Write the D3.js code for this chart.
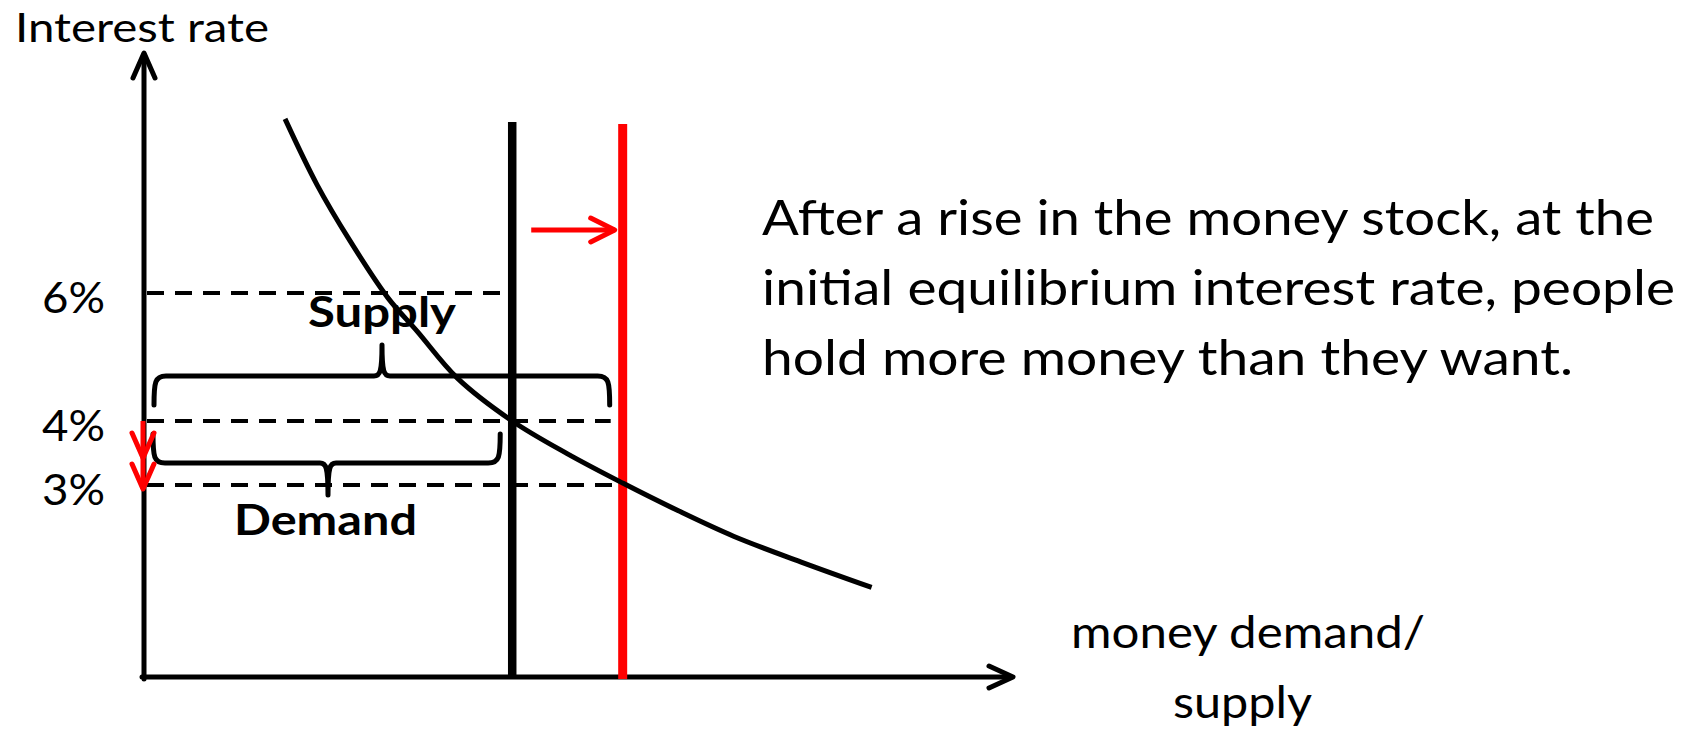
<!DOCTYPE html>
<html>
<head>
<meta charset="utf-8">
<script src="https://cdn.jsdelivr.net/npm/d3@7"></script>
<style>
  html, body { margin: 0; padding: 0; background: #fff; }
  svg { display: block; }
  text { font-family: Lato, "Open Sans", sans-serif; fill: #000; }
</style>
</head>
<body>
<svg id="chart" width="1695" height="732"></svg>
<script>
// ---- data ----
const rateLevels = [6, 4, 3];
const rateLabels = ["6%", "4%", "3%"];
const supplyOld = 100;   // initial money stock
const supplyNew = 130;   // money stock after the rise
const demandQ    = [38.3, 47.0, 56.0, 66.3, 74.2, 85.1, 100, 114.9, 130, 145, 160.1, 178.3, 197.6];
const demandRate = [8.72, 7.69, 6.81, 5.92, 5.40, 4.67, 4.00, 3.49, 3.03, 2.60, 2.20, 1.80, 1.40];
const yAxisTitle = "Interest rate";
const xAxisTitle = ["money demand/", "supply"];
const note = ["After a rise in the money stock, at the",
              "initial equilibrium interest rate, people",
              "hold more money than they want."];
const braceLabels = ["Supply", "Demand"];

// ---- scales ----
const svg = d3.select("#chart");
const x = d3.scaleLinear().domain([0, 236]).range([144, 1013]);
const y = d3.scaleLinear().domain([0, 10]).range([677, 37]);
const x0 = x(0), y0 = y(0);
const yTip = 53, xTip = x(236);
const lineTop = 122;

// ---- axes (arrows) ----
const ax = svg.append("g").attr("stroke", "#000").attr("stroke-width", 5)
  .attr("fill", "none").attr("stroke-linecap", "round").attr("stroke-linejoin", "round");
ax.append("line").attr("x1", x0).attr("y1", y0 + 2).attr("x2", x0).attr("y2", yTip + 2);
ax.append("path").attr("d", `M${x0 - 11},${yTip + 25} L${x0},${yTip} L${x0 + 11},${yTip + 25}`);
ax.append("line").attr("x1", x0 - 2).attr("y1", y0).attr("x2", xTip - 2).attr("y2", y0);
ax.append("path").attr("d", `M${xTip - 24},${y0 - 11} L${xTip},${y0} L${xTip - 24},${y0 + 11}`);

// ---- dashed rate lines ----
const dashEnds = [x(supplyOld) - 8, x(supplyNew) - 12, x(supplyNew) - 4];
svg.append("g").selectAll("line").data(rateLevels).join("line")
  .attr("x1", x0 + 3).attr("x2", (d, i) => dashEnds[i])
  .attr("y1", d => y(d)).attr("y2", d => y(d))
  .attr("stroke", "#000").attr("stroke-width", 4).attr("stroke-dasharray", "17,11");

svg.append("g").selectAll("text").data(rateLevels).join("text")
  .attr("x", 42).attr("y", d => y(d) + 20)
  .attr("font-size", 42)
  .attr("textLength", 63).attr("lengthAdjust", "spacingAndGlyphs")
  .text((d, i) => rateLabels[i]);

// ---- supply lines ----
svg.append("line").attr("x1", x(supplyOld)).attr("x2", x(supplyOld))
  .attr("y1", lineTop).attr("y2", y0 - 2)
  .attr("stroke", "#000").attr("stroke-width", 8.5);
svg.append("line").attr("x1", x(supplyNew)).attr("x2", x(supplyNew))
  .attr("y1", lineTop + 2).attr("y2", y0 + 2)
  .attr("stroke", "#ff0000").attr("stroke-width", 9);

// ---- demand curve ----
const pts = demandQ.map((q, i) => [q, demandRate[i]]);
svg.append("path").datum(pts)
  .attr("d", d3.line().x(d => x(d[0])).y(d => y(d[1])).curve(d3.curveCatmullRom.alpha(0.5)))
  .attr("fill", "none").attr("stroke", "#000").attr("stroke-width", 5);

// ---- braces ----
function brace(l, r, barY, endY, cx, cuspY) {
  const s = endY > barY ? 1 : -1;
  const c = cuspY > barY ? 1 : -1;
  return `M${l},${endY} C${l},${barY + s * 6} ${l + 1},${barY} ${l + 12},${barY}` +
         ` L${cx - 8},${barY} C${cx - 2},${barY} ${cx},${barY + c * 4} ${cx},${cuspY}` +
         ` M${cx},${cuspY} C${cx},${barY + c * 4} ${cx + 2},${barY} ${cx + 8},${barY}` +
         ` L${r - 12},${barY} C${r - 1},${barY} ${r},${barY + s * 6} ${r},${endY}`;
}
const br = svg.append("g").attr("fill", "none").attr("stroke", "#000")
  .attr("stroke-width", 5).attr("stroke-linecap", "round");
br.append("path").attr("d", brace(x0 + 10, x(supplyNew) - 13, 376, 405, 382, 345));
br.append("path").attr("d", brace(x0 + 9, x(supplyOld) - 12, 463, 434, 328, 495));

svg.append("text").attr("x", 308).attr("y", 327)
  .attr("font-size", 42).attr("font-weight", 700)
  .attr("textLength", 148).attr("lengthAdjust", "spacingAndGlyphs")
  .text(braceLabels[0]);
svg.append("text").attr("x", 234).attr("y", 535)
  .attr("font-size", 42).attr("font-weight", 700)
  .attr("textLength", 183).attr("lengthAdjust", "spacingAndGlyphs")
  .text(braceLabels[1]);

// ---- red arrows ----
const ra = svg.append("g").attr("fill", "none").attr("stroke", "#ff0000")
  .attr("stroke-width", 5).attr("stroke-linecap", "round").attr("stroke-linejoin", "round");
const arY = 230, arX1 = x(supplyOld) + 19, arX2 = x(supplyNew) - 8;
ra.append("line").attr("x1", arX1).attr("y1", arY).attr("x2", arX2).attr("y2", arY).attr("stroke-linecap", "butt");
ra.append("path").attr("d", `M${arX2 - 24},${arY - 12} L${arX2},${arY} L${arX2 - 24},${arY + 12}`);
const dy1 = y(4), dy2 = y(3) + 4;
ra.append("line").attr("x1", x0 - 1).attr("x2", x0 - 1).attr("y1", dy1).attr("y2", dy2).attr("stroke-linecap", "butt");
ra.append("path").attr("d", `M${x0 - 12},${dy2 - 25} L${x0 - 1},${dy2} L${x0 + 10},${dy2 - 25}`);
ra.append("path").attr("d", `M${x0 - 12},${dy2 - 56} L${x0 - 1},${dy2 - 31} L${x0 + 10},${dy2 - 56}`);

// ---- texts ----
svg.append("text").attr("x", 15).attr("y", 42).attr("font-size", 40)
  .attr("textLength", 254).attr("lengthAdjust", "spacingAndGlyphs").text(yAxisTitle);

const xt = [{x: 1071, y: 648, w: 354}, {x: 1173, y: 718, w: 139}];
svg.append("g").selectAll("text").data(xAxisTitle).join("text")
  .attr("x", (d, i) => xt[i].x).attr("y", (d, i) => xt[i].y)
  .attr("font-size", 44)
  .attr("textLength", (d, i) => xt[i].w).attr("lengthAdjust", "spacingAndGlyphs")
  .text(d => d);

const nt = [{y: 235, w: 892}, {y: 305, w: 913}, {y: 375, w: 811}];
svg.append("g").selectAll("text").data(note).join("text")
  .attr("x", 762).attr("y", (d, i) => nt[i].y)
  .attr("font-size", 48)
  .attr("textLength", (d, i) => nt[i].w).attr("lengthAdjust", "spacingAndGlyphs")
  .text(d => d);
</script>
</body>
</html>
